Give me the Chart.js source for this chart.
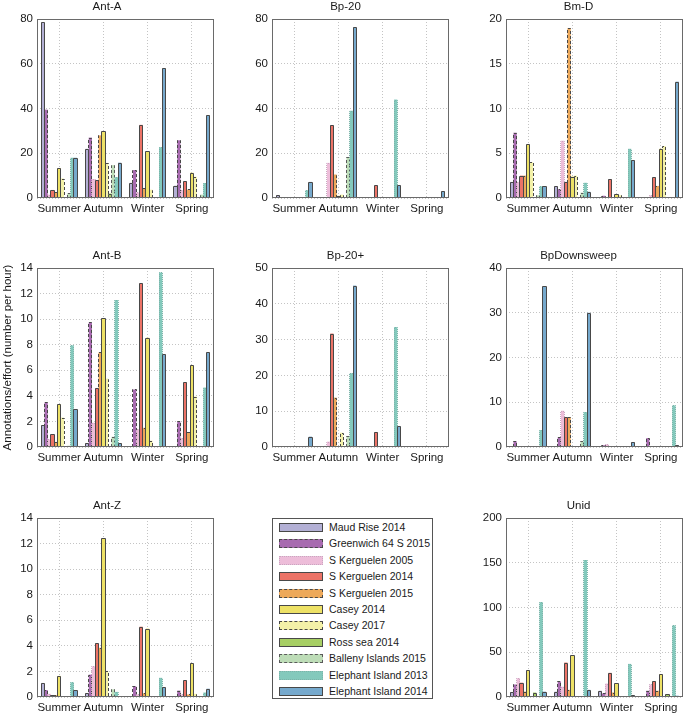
<!DOCTYPE html>
<html><head><meta charset="utf-8">
<script src="https://cdn.jsdelivr.net/npm/chart.js@4/dist/chart.umd.min.js"></script>
<style>
html,body{margin:0;padding:0;background:#fff;}
body{width:685px;height:717px;position:relative;overflow:hidden;font-family:"Liberation Sans",Arial,sans-serif;}
canvas{position:absolute;}
#legend{position:absolute;left:272px;top:518px;width:161px;height:181px;border:1px solid #555;box-sizing:border-box;background:#fff;}
.li{position:absolute;left:6px;height:12px;}
.sw{position:absolute;left:0;top:1px;width:44px;height:9px;box-sizing:border-box;}
.lt{position:absolute;left:50px;top:-1px;font-size:10.5px;color:#1a1a1a;white-space:nowrap;line-height:12px;}
</style></head>
<body>
<div id="legend"></div>
<script>
// ---------- data ----------
const categories = ['Summer', 'Autumn', 'Winter', 'Spring'];
const seriesNames = ['Maud Rise 2014', 'Greenwich 64 S  2015', 'S Kerguelen 2005', 'S Kerguelen 2014',
  'S Kerguelen 2015', 'Casey 2014', 'Casey 2017', 'Ross sea 2014', 'Balleny Islands 2015',
  'Elephant Island 2013', 'Elephant Island 2014'];

// each row = one series: [Summer, Autumn, Winter, Spring]
const antA = [[78.5,22,6.8,5.5],[39.5,27,12.5,25.8],[1.5,8.5,2.5,3.5],[3.6,8,32.7,7.4],[2.5,28,4.3,3.8],
  [13.4,29.8,21,11.3],[8.7,15.7,3.7,9.5],[0,2,0,0],[2.2,14.7,0,1.5],[18,9.3,22.7,6.7],[18,15.8,58,37]];
const bp20 = [[1.2,0.3,0.2,0],[0.2,0.3,0,0.2],[0,15.7,0,0],[0,32.5,5.6,0],[0,10.5,0,0],
  [0,1.0,0,0],[0,1.5,0,0],[0,0,0,0],[0,18.3,0,0],[3.5,39,44,0],[7.2,76.3,5.6,3.0]];
const bmD = [[1.8,1.3,0,0],[7.3,1.0,0.25,0],[1.8,6.4,0,0.3],[2.5,1.8,2.1,2.3],[2.5,19.0,0.05,1.35],
  [6.0,2.4,0.4,5.5],[4.0,2.5,0.3,5.8],[0,0,0,0],[0.3,0.6,0,0],[1.3,1.7,5.5,0],[1.3,0.7,4.2,13.0]];
const antB = [[1.7,0.3,0.05,0],[3.5,9.75,4.5,2.0],[0.6,1.9,1.4,0.7],[1.0,4.6,12.8,5.05],[0.4,7.4,1.5,1.15],
  [3.35,10.1,8.55,6.4],[2.3,5.35,0.5,3.95],[0,0,0,0],[0.1,0.8,0,0],[7.95,11.5,13.65,4.65],[2.95,0.3,7.25,7.4]];
const bp20plus = [[0.2,0.2,0.1,0],[0,0.3,0,0],[0,1.5,0,0],[0,31.7,4.2,0],[0,13.8,0,0],
  [0,0.2,0,0],[0,4.0,0,0],[0,0,0,0],[0,3.0,0,0],[0.3,20.6,33.5,0],[2.9,45.1,5.8,0.2]];
const bpDownsweep = [[0,0.2,0.1,0],[1.3,2.2,0.4,2.0],[0,8.1,0.6,0],[0,6.7,0,0],[0,6.6,0,0],
  [0,0,0,0],[0,0,0,0],[0,0,0,0],[0,1.3,0,0.1],[3.8,7.8,0,9.3],[36,30,1.1,0.4]];
const antZ = [[1.1,0.3,0,0],[0.55,1.75,0.85,0.5],[0.25,2.4,0.2,0.2],[0.15,4.2,5.5,1.3],[0.15,3.85,0.3,0.2],
  [1.65,12.4,5.35,2.65],[0.05,2.05,0,0.25],[0,0,0,0],[0,0.6,0,0],[1.15,0.4,1.5,0.35],[0.55,0,0.75,0.65]];
const unid = [[5.5,6,7,0.5],[14,17.5,4,7],[21,11.5,15,14],[16,38.5,27,17.5],[6,8,5,7],
  [30,46.5,15.5,25.5],[0.5,0.5,0,0],[5,0.5,0,3],[0,0,0,0],[106,153,37,80],[6,8,2,1.5]];

// y-axis tick ranges
const yMaxes = {antA:80, bp20:80, bmD:20, antB:14, bp20plus:50, bpDownsweep:40, antZ:14, unid:200};
const ySteps = {antA:20, bp20:20, bmD:5, antB:2, bp20plus:10, bpDownsweep:10, antZ:2, unid:50};
const yAxisLabel = 'Annotations/effort (number per hour)';

// ---------- styles ----------
const fillColors = ['#b3b0d5','#a86bb0','#edbdd9','#ec7367','#eda95b','#ede166','#f3f1a8','#a7cf64','#bddcb7','#83c9bc','#76a9cd'];
const edgeColors = ['#484848','#484848','#c9a7c0','#484848','#484848','#484848','#484848','#484848','#5a5a5a','#7cb3a9','#484848'];
const edgeStyles = ['solid','dashed','dotted','solid','dashed','solid','dashed','solid','dashed','dotted','solid'];
const dashMap = {solid:[], dashed:[3,2], dotted:[1,1]};

const panels = [
  {id:'antA', title:'Ant-A', data:antA, left:0, top:0, yW:37},
  {id:'bp20', title:'Bp-20', data:bp20, left:242, top:0, yW:30},
  {id:'bmD', title:'Bm-D', data:bmD, left:474, top:0, yW:32},
  {id:'antB', title:'Ant-B', data:antB, left:0, top:249, yW:37, ytitle:true},
  {id:'bp20plus', title:'Bp-20+', data:bp20plus, left:242, top:249, yW:30},
  {id:'bpDownsweep', title:'BpDownsweep', data:bpDownsweep, left:474, top:249, yW:32},
  {id:'antZ', title:'Ant-Z', data:antZ, left:0, top:499, yW:37},
  {id:'unid', title:'Unid', data:unid, left:474, top:499, yW:32},
];

const PLOT_W = 177, PLOT_H = 179, TITLE_H = 19, XAX_H = 17, RIGHT_PAD = 2;

const framePlugin = {
  id:'frameAndEdges',
  afterDatasetsDraw(chart){
    const ctx = chart.ctx;
    chart.data.datasets.forEach((ds, i) => {
      const st = edgeStyles[i];
      const meta = chart.getDatasetMeta(i);
      ctx.save();
      ctx.strokeStyle = edgeColors[i];
      ctx.lineWidth = 1;
      ctx.setLineDash(dashMap[st]);
      meta.data.forEach(el => {
        const p = el.getProps(['x','y','base','width'], true);
        if (Math.abs(p.base - p.y) < 0.6) return;
        const l = Math.floor(p.x - p.width/2) + 0.5;
        const r = Math.floor(p.x + p.width/2) + 0.5;
        const t = Math.round(p.y) + 0.5;
        const b = Math.round(p.base);
        ctx.beginPath();
        ctx.moveTo(l, b); ctx.lineTo(l, t); ctx.lineTo(r, t); ctx.lineTo(r, b);
        ctx.stroke();
      });
      ctx.restore();
    });
  },
  afterDraw(chart){
    const a = chart.chartArea, ctx = chart.ctx;
    ctx.save();
    ctx.strokeStyle = '#6a6a6a';
    ctx.lineWidth = 1;
    ctx.strokeRect(Math.round(a.left)+0.5, Math.round(a.top)+0.5, Math.round(a.right-a.left)-1, Math.round(a.bottom-a.top)-1);
    ctx.restore();
  }
};

Chart.defaults.font.family = '"Liberation Sans", Arial, sans-serif';
Chart.defaults.color = '#262626';

panels.forEach(p => {
  const c = document.createElement('canvas');
  const w = p.yW + PLOT_W + RIGHT_PAD, h = TITLE_H + PLOT_H + XAX_H;
  c.width = w; c.height = h;
  c.style.left = p.left + 'px'; c.style.top = p.top + 'px';
  c.style.width = w + 'px'; c.style.height = h + 'px';
  document.body.appendChild(c);
  const datasets = p.data.map((vals, i) => ({
    label: seriesNames[i],
    data: vals,
    backgroundColor: fillColors[i],
    borderWidth: 0,
    categoryPercentage: 0.81,
    barPercentage: 1.0
  }));
  new Chart(c, {
    type:'bar',
    data:{labels:categories, datasets},
    plugins:[framePlugin],
    options:{
      responsive:false, animation:false, devicePixelRatio:1,
      layout:{padding:{left:0,right:RIGHT_PAD,top:0,bottom:0}},
      plugins:{
        legend:{display:false}, tooltip:{enabled:false},
        title:{display:true, text:p.title, color:'#1a1a1a',
          font:{size:11.5, weight:'normal', lineHeight:1.15}, padding:{top:0,bottom:5.8}}
      },
      scales:{
        x:{
          offset:true,
          grid:{display:true, offset:false, drawTicks:false, color:'#c4c4c4', lineWidth:1},
          border:{display:false, dash:[1,2]},
          ticks:{font:{size:11.5}, color:'#1a1a1a', padding:4, maxRotation:0, autoSkip:false},
          afterFit:(s)=>{ s.height = XAX_H; }
        },
        y:{
          min:0, max:yMaxes[p.id],
          grid:{drawTicks:false, color:'#c4c4c4', lineWidth:1},
          border:{display:false, dash:[1,2]},
          ticks:{stepSize:ySteps[p.id], font:{size:11.5}, color:'#1a1a1a', padding:4},
          title:{display:!!p.ytitle, text:yAxisLabel, color:'#1a1a1a', font:{size:11.5}, padding:{top:1,bottom:0}},
          afterFit:(s)=>{ s.width = p.yW; }
        }
      }
    }
  });
});

// legend built from the same series arrays
const lg = document.getElementById('legend');
seriesNames.forEach((n, i) => {
  const row = document.createElement('div');
  row.className = 'li';
  row.style.top = (3 + i*16.4) + 'px';
  const sw = document.createElement('div');
  sw.className = 'sw';
  sw.style.background = fillColors[i];
  sw.style.border = '1px ' + edgeStyles[i] + ' ' + edgeColors[i];
  const t = document.createElement('div');
  t.className = 'lt';
  t.textContent = n;
  row.appendChild(sw); row.appendChild(t);
  lg.appendChild(row);
});
</script>
</body></html>
